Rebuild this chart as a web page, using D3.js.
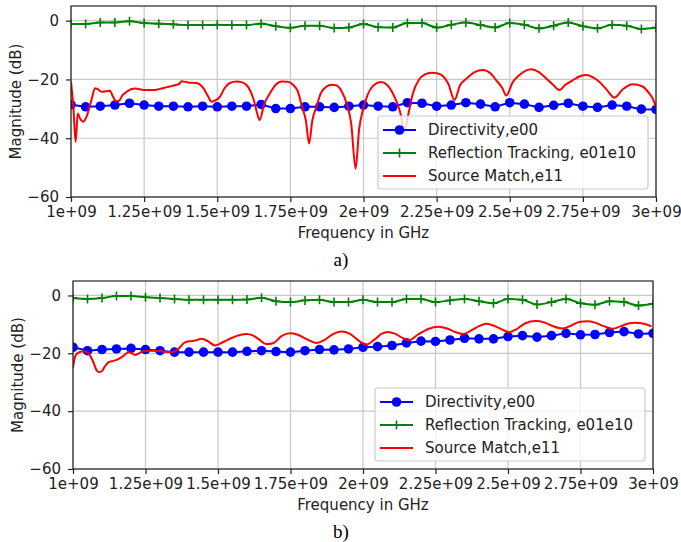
<!DOCTYPE html>
<html>
<head>
<meta charset="utf-8">
<script src="https://cdn.jsdelivr.net/npm/d3@7"></script>
<style>
  body { margin: 0; background: #fff; }
  svg { display: block; font-family: "DejaVu Sans", sans-serif; }
</style>
</head>
<body>
<svg id="chart" width="681" height="542"></svg>
<script>
// marker frequencies (GHz), shared by the directivity / tracking series
var markFreq = [1.00, 1.05, 1.10, 1.15, 1.20, 1.25, 1.30, 1.35, 1.40, 1.45,
  1.50, 1.55, 1.60, 1.65, 1.70, 1.75, 1.80, 1.85, 1.90, 1.95,
  2.00, 2.05, 2.10, 2.15, 2.20, 2.25, 2.30, 2.35, 2.40, 2.45,
  2.50, 2.55, 2.60, 2.65, 2.70, 2.75, 2.80, 2.85, 2.90, 2.95, 3.00];

var xTicks = [1.0, 1.25, 1.5, 1.75, 2.0, 2.25, 2.5, 2.75, 3.0];
var xTickLabels = ["1e+09", "1.25e+09", "1.5e+09", "1.75e+09", "2e+09", "2.25e+09", "2.5e+09", "2.75e+09", "3e+09"];
var yTicks = [0, -20, -40, -60];
var seriesNames = ["Directivity,e00", "Reflection Tracking, e01e10", "Source Match,e11"];

// panel a)
var directivityA = [-28.6, -29.3, -29.1, -28.7, -28.1, -28.7, -29.1, -29.1, -29.3, -29.1,
  -29.3, -29.1, -29.1, -28.5, -29.9, -29.9, -29.3, -29.3, -29.5, -29.1,
  -28.7, -29.1, -29.3, -27.9, -28.1, -29.1, -28.7, -27.9, -28.4, -29.3,
  -27.9, -28.4, -29.5, -28.8, -28.1, -29.1, -29.5, -28.7, -29.1, -30.1, -30.2];
var trackingA = [-1.1, -1.1, -0.6, -0.6, -0.2, -0.8, -1.0, -1.25, -1.5, -1.5,
  -1.4, -1.5, -1.5, -1.0, -1.9, -2.4, -1.7, -1.7, -2.5, -2.3,
  -1.1, -2.2, -2.3, -0.8, -0.8, -2.3, -1.4, -0.6, -1.5, -2.3,
  -0.8, -1.4, -2.6, -1.7, -0.6, -1.9, -2.6, -1.4, -1.7, -2.8, -2.3];
var matchFreqA = [1.0, 1.008, 1.016, 1.023, 1.031, 1.042, 1.053, 1.07, 1.082, 1.09,
  1.105, 1.12, 1.133, 1.142, 1.155, 1.165, 1.175, 1.19, 1.218, 1.25,
  1.28, 1.304, 1.32, 1.338, 1.361, 1.37, 1.378, 1.40, 1.429, 1.452,
  1.47, 1.48, 1.49, 1.509, 1.525, 1.543, 1.566, 1.585, 1.60, 1.611,
  1.625, 1.635, 1.645, 1.66, 1.68, 1.70, 1.72, 1.74, 1.76, 1.775,
  1.79, 1.803, 1.814, 1.825, 1.839, 1.855, 1.873, 1.89, 1.907, 1.925,
  1.942, 1.958, 1.973, 1.985, 1.998, 2.015, 2.035, 2.06, 2.08, 2.10,
  2.125, 2.14, 2.155, 2.169, 2.19, 2.21, 2.232, 2.255, 2.272, 2.29,
  2.311, 2.33, 2.351, 2.38, 2.408, 2.435, 2.454, 2.475, 2.488, 2.51,
  2.533, 2.555, 2.573, 2.60, 2.624, 2.648, 2.67, 2.69, 2.715, 2.74,
  2.761, 2.785, 2.806, 2.83, 2.858, 2.886, 2.92, 2.954, 2.975, 2.988, 3.0];
var matchA = [-20.7, -29.3, -41.3, -31.6, -33.3, -34.4, -32.7, -27.0, -23.0, -23.2,
  -24.2, -24.0, -23.8, -25.5, -27.5, -27.2, -25.5, -24.2, -23.1, -23.6,
  -23.6, -23.2, -22.8, -22.4, -21.8, -21.5, -20.6, -21.0, -21.2, -22.9,
  -26.0, -27.6, -27.3, -25.9, -23.0, -21.2, -20.7, -21.0, -21.9, -23.5,
  -27.0, -31.0, -33.8, -28.5, -24.7, -21.8, -20.7, -20.8, -21.9, -24.0,
  -29.3, -34.0, -41.8, -34.0, -29.3, -24.5, -22.5, -21.8, -22.0, -24.0,
  -28.1, -35.0, -50.4, -37.0, -30.4, -25.0, -22.0, -20.9, -21.8, -24.7,
  -31.0, -37.8, -31.0, -24.7, -20.0, -18.3, -17.7, -18.0, -18.9, -21.5,
  -27.0, -22.0, -19.8, -17.5, -16.8, -18.0, -20.3, -23.0, -25.5, -21.0,
  -18.5, -17.0, -16.5, -17.5, -19.6, -21.8, -23.6, -21.8, -20.3, -18.9,
  -18.5, -19.3, -20.8, -23.3, -26.2, -23.4, -21.6, -22.4, -24.5, -26.4, -29.3];

// panel b)
var directivityB = [-17.9, -19.1, -18.7, -18.5, -18.3, -18.7, -19.1, -19.6, -19.6, -19.6,
  -19.6, -19.6, -19.3, -19.1, -19.4, -19.6, -19.1, -18.7, -18.8, -18.5,
  -17.9, -17.7, -17.3, -16.4, -15.8, -15.9, -15.4, -14.8, -15.0, -15.0,
  -14.2, -13.9, -14.4, -13.9, -13.1, -13.6, -13.5, -12.8, -12.5, -13.3, -13.1];
var trackingB = [-0.9, -1.2, -0.9, -0.2, -0.2, -0.6, -0.9, -1.2, -1.5, -1.5,
  -1.5, -1.5, -1.4, -0.8, -2.0, -2.3, -1.7, -1.5, -2.3, -2.3,
  -1.5, -2.3, -2.3, -1.2, -1.2, -2.3, -1.7, -1.2, -2.0, -2.7,
  -1.2, -1.5, -3.1, -2.3, -1.2, -2.7, -3.2, -2.0, -2.3, -3.5, -2.9];
var matchFreqB = [1.0, 1.005, 1.013, 1.025, 1.036, 1.048, 1.059, 1.07, 1.082, 1.09,
  1.099, 1.11, 1.122, 1.14, 1.156, 1.175, 1.191, 1.20, 1.214, 1.228,
  1.242, 1.271, 1.306, 1.34, 1.363, 1.386, 1.405, 1.421, 1.444, 1.465,
  1.49, 1.52, 1.547, 1.575, 1.599, 1.62, 1.639, 1.668, 1.69, 1.72,
  1.748, 1.775, 1.81, 1.84, 1.865, 1.90, 1.926, 1.955, 1.985, 2.01,
  2.04, 2.065, 2.085, 2.11, 2.135, 2.16, 2.19, 2.225, 2.26, 2.29,
  2.32, 2.346, 2.375, 2.40, 2.426, 2.455, 2.48, 2.505, 2.53, 2.56,
  2.595, 2.625, 2.655, 2.688, 2.72, 2.745, 2.774, 2.80, 2.83, 2.86,
  2.89, 2.915, 2.938, 2.965, 2.995];
var matchB = [-25.0, -22.0, -20.2, -19.5, -19.3, -19.6, -20.8, -23.0, -26.0, -26.5,
  -26.2, -24.5, -23.1, -22.6, -22.0, -20.8, -19.6, -19.8, -20.6, -20.0,
  -19.3, -19.1, -19.3, -19.6, -18.5, -16.2, -15.8, -15.6, -15.0, -15.8,
  -17.3, -16.0, -14.7, -13.7, -13.3, -13.8, -15.0, -16.8, -16.5, -14.0,
  -13.1, -13.6, -15.3, -16.4, -15.5, -13.2, -12.5, -13.3, -15.6, -17.0,
  -15.2, -13.2, -12.6, -13.2, -14.6, -15.4, -13.5, -11.6, -10.8, -11.4,
  -12.7, -13.3, -12.0, -10.6, -9.8, -10.6, -11.8, -12.7, -11.6, -9.6,
  -8.8, -9.3, -10.6, -11.4, -10.3, -9.2, -8.9, -9.4, -10.6, -11.5,
  -10.6, -9.7, -9.4, -9.7, -10.7];

var colors = ["#0000ff", "#008000", "#ff0000"];
var svg = d3.select("#chart");

function drawPanel(id, box, dir, track, mFreq, match, caption) {
  var x = d3.scaleLinear().domain([1, 3]).range([box.left, box.right]);
  var y = d3.scaleLinear().domain([-60, 5]).range([box.bottom, box.top]);
  var g = svg.append("g");

  g.append("clipPath").attr("id", id)
    .append("rect")
    .attr("x", box.left).attr("y", box.top)
    .attr("width", box.right - box.left).attr("height", box.bottom - box.top);

  // grid
  g.selectAll(".vg").data(xTicks).enter().append("line")
    .attr("x1", d => x(d)).attr("x2", d => x(d))
    .attr("y1", box.top).attr("y2", box.bottom)
    .attr("stroke", "#c8c8c8").attr("stroke-width", 1.2);
  g.selectAll(".hg").data(yTicks).enter().append("line")
    .attr("x1", box.left).attr("x2", box.right)
    .attr("y1", d => y(d)).attr("y2", d => y(d))
    .attr("stroke", "#c8c8c8").attr("stroke-width", 1.2);

  // axes
  var xAxis = d3.axisBottom(x).tickValues(xTicks).tickSize(5).tickPadding(4)
    .tickFormat((d, i) => xTickLabels[i]);
  var gx = g.append("g").attr("transform", "translate(0," + box.bottom + ")").call(xAxis);
  var yAxis = d3.axisLeft(y).tickValues(yTicks).tickSize(5).tickPadding(7)
    .tickFormat(d => d < 0 ? "\u2212" + Math.abs(d) : d);
  var gy = g.append("g").attr("transform", "translate(" + box.left + ",0)").call(yAxis);
  [gx, gy].forEach(function(a) {
    a.select(".domain").remove();
    a.selectAll("line").attr("stroke", "#222").attr("stroke-width", 1.2);
    a.selectAll("text").attr("fill", "#222").style("font-size", "15px")
      .style("font-family", "DejaVu Sans");
  });

  // data
  var plot = g.append("g").attr("clip-path", "url(#" + id + ")");
  var pts = markFreq.map((f, i) => [f, dir[i]]);
  plot.append("path").datum(pts)
    .attr("d", d3.line().x(d => x(d[0])).y(d => y(d[1])))
    .attr("fill", "none").attr("stroke", colors[0]).attr("stroke-width", 2);
  plot.selectAll(".dm").data(pts).enter().append("circle")
    .attr("cx", d => x(d[0])).attr("cy", d => y(d[1])).attr("r", 4.8)
    .attr("fill", colors[0]);

  var tp = markFreq.map((f, i) => [f, track[i]]);
  plot.append("path").datum(tp)
    .attr("d", d3.line().x(d => x(d[0])).y(d => y(d[1])).curve(d3.curveMonotoneX))
    .attr("fill", "none").attr("stroke", colors[1]).attr("stroke-width", 2);
  plot.selectAll(".tm").data(tp).enter().append("path")
    .attr("transform", d => "translate(" + x(d[0]) + "," + y(d[1]) + ")")
    .attr("d", "M-4.5,0H4.5M0,-4.5V4.5")
    .attr("stroke", colors[1]).attr("stroke-width", 1.6);

  var mp = mFreq.map((f, i) => [f, match[i]]);
  plot.append("path").datum(mp)
    .attr("d", d3.line().x(d => x(d[0])).y(d => y(d[1])).curve(d3.curveMonotoneX))
    .attr("fill", "none").attr("stroke", colors[2]).attr("stroke-width", 2)
    .attr("stroke-linejoin", "round");

  // frame
  g.append("rect")
    .attr("x", box.left).attr("y", box.top)
    .attr("width", box.right - box.left).attr("height", box.bottom - box.top)
    .attr("fill", "none").attr("stroke", "#222").attr("stroke-width", 1.2);

  // labels
  g.append("text")
    .attr("x", (box.left + box.right) / 2).attr("y", box.bottom + 41)
    .attr("text-anchor", "middle").attr("fill", "#222").style("font-size", "15px")
    .text("Frequency in GHz");
  g.append("text")
    .attr("transform", "translate(" + (box.left - 50) + "," + (box.top + box.bottom) / 2 + ") rotate(-90)")
    .attr("text-anchor", "middle").attr("fill", "#222").style("font-size", "15px")
    .text("Magnitude (dB)");
  g.append("text")
    .attr("x", 341).attr("y", box.bottom + 69)
    .attr("text-anchor", "middle").attr("fill", "#000")
    .style("font-family", "Liberation Serif, serif").style("font-size", "19px")
    .text(caption);

  // legend
  var lw = 270, lh = 73;
  var lx = box.right - 8 - lw, ly = box.bottom - 8 - lh;
  var lg = g.append("g");
  lg.append("rect").attr("x", lx).attr("y", ly).attr("width", lw).attr("height", lh)
    .attr("rx", 3).attr("fill", "#fff").attr("fill-opacity", 0.8)
    .attr("stroke", "#cccccc").attr("stroke-width", 1.2);
  seriesNames.forEach(function(name, i) {
    var cy = ly + 14 + i * 23;
    lg.append("line").attr("x1", lx + 5).attr("x2", lx + 38)
      .attr("y1", cy).attr("y2", cy)
      .attr("stroke", colors[i]).attr("stroke-width", 2);
    if (i === 0) {
      lg.append("circle").attr("cx", lx + 21.5).attr("cy", cy).attr("r", 4.8).attr("fill", colors[0]);
    } else if (i === 1) {
      lg.append("path").attr("transform", "translate(" + (lx + 21.5) + "," + cy + ")")
        .attr("d", "M-4.5,0H4.5M0,-4.5V4.5").attr("stroke", colors[1]).attr("stroke-width", 1.6);
    }
    lg.append("text").attr("x", lx + 50).attr("y", cy)
      .attr("dominant-baseline", "central").attr("fill", "#222")
      .style("font-size", "15px").text(name);
  });
}

drawPanel("clipA", {left: 71, right: 656, top: 6, bottom: 197},
  directivityA, trackingA, matchFreqA, matchA, "a)");
drawPanel("clipB", {left: 73, right: 653, top: 281, bottom: 469},
  directivityB, trackingB, matchFreqB, matchB, "b)");
</script>
</body>
</html>
